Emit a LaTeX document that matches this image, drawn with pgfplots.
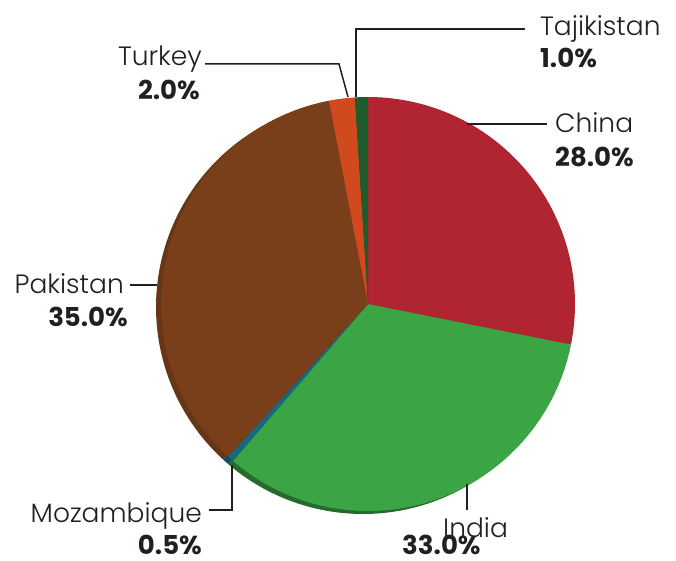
\documentclass[border=0pt]{standalone}
\usepackage{pgfplots}
\pgfplotsset{compat=1.18}
\usepackage{pgfplotstable}
\usepackage{fontspec}
\setmainfont{Poppins}[UprightFont=* Light, BoldFont=* Bold]
\definecolor{cChina}{HTML}{B12432}
\definecolor{cIndia}{HTML}{3BA445}
\definecolor{cMoz}{HTML}{17687E}
\definecolor{cPak}{HTML}{783F1A}
\definecolor{cTur}{HTML}{D14A1E}
\definecolor{cTaj}{HTML}{1E5C2E}
\definecolor{txt}{HTML}{231F20}
% shares (percent) in drawing order, clockwise from 12 o'clock
\def\pChina{28.0}
\def\pIndia{33.0}
\def\pMoz{0.5}
\def\pPak{35.0}
\def\pTur{2.0}
\def\pTaj{1.0}
\pgfmathsetmacro\total{\pChina+\pIndia+\pMoz+\pPak+\pTur+\pTaj}
% #1 cumulative start, #2 share, #3 colour, #4 centre x, #5 centre y
\newcommand\pieslice[5]{%
  \pgfmathsetmacro\sa{90-#1/\total*360}%
  \pgfmathsetmacro\ea{90-(#1+#2)/\total*360}%
  \addplot[fill=#3, draw=none, domain=\sa:\ea, samples=80, variable=\t]
    ({#4+207*cos(\t)},{#5+207*sin(\t)}) -- (axis cs:#4,#5) -- cycle;
}
\begin{document}
\begin{tikzpicture}
\begin{axis}[
  width=676pt, height=560pt, scale only axis,
  xmin=0, xmax=676, ymin=0, ymax=560,
  hide axis, clip=false,
]
% shadow rim
\pieslice{0}{\pChina}{cChina!75!black}{363}{253}
\pieslice{28.0}{\pIndia}{cIndia!65!black}{363}{253}
\pieslice{61.0}{\pMoz}{cMoz!75!black}{363}{253}
\pieslice{61.5}{\pPak}{cPak!85!black}{363}{253}
\pieslice{96.5}{\pTur}{cTur!75!black}{363}{253}
\pieslice{98.5}{\pTaj}{cTaj!75!black}{363}{253}
% top pie
\pieslice{0}{\pChina}{cChina}{368}{256}
\pieslice{28.0}{\pIndia}{cIndia}{368}{256}
\pieslice{61.0}{\pMoz}{cMoz}{368}{256}
\pieslice{61.5}{\pPak}{cPak}{368}{256}
\pieslice{96.5}{\pTur}{cTur}{368}{256}
\pieslice{98.5}{\pTaj}{cTaj}{368}{256}
% leader lines
\draw[txt, line width=1.5pt] (axis cs:356,463) -- (axis cs:356,531) -- (axis cs:525,531);
\draw[txt, line width=1.5pt] (axis cs:467,436) -- (axis cs:547,436);
\draw[txt, line width=1.5pt] (axis cs:205,496) -- (axis cs:339,496) -- (axis cs:348,463);
\draw[txt, line width=1.5pt] (axis cs:130,275) -- (axis cs:157,275);
\draw[txt, line width=1.5pt] (axis cs:209,50) -- (axis cs:232,50) -- (axis cs:232,95);
\draw[txt, line width=1.5pt] (axis cs:467,76) -- (axis cs:467,50);
% labels
\begin{scope}[every node/.style={font=\fontsize{26.5}{30}\selectfont, text=txt, inner sep=0pt}]
\node[anchor=base west] at (axis cs:540,524) {Tajikistan};
\node[anchor=base west, font=\fontsize{26}{30}\selectfont\bfseries] at (axis cs:540,492) {1.0\%};
\node[anchor=base west] at (axis cs:555,427) {China};
\node[anchor=base west, font=\fontsize{26}{30}\selectfont\bfseries] at (axis cs:555,393) {28.0\%};
\node[anchor=base east] at (axis cs:202,494) {Turkey};
\node[anchor=base east, font=\fontsize{26}{30}\selectfont\bfseries] at (axis cs:200,460) {2.0\%};
\node[anchor=base east] at (axis cs:124,267) {Pakistan};
\node[anchor=base east, font=\fontsize{26}{30}\selectfont\bfseries] at (axis cs:128,234) {35.0\%};
\node[anchor=base east] at (axis cs:202,38) {Mozambique};
\node[anchor=base east, font=\fontsize{26}{30}\selectfont\bfseries] at (axis cs:202,6) {0.5\%};
\node[anchor=base west] at (axis cs:443,23) {India};
\node[anchor=base west, font=\fontsize{26}{30}\selectfont\bfseries] at (axis cs:402,6) {33.0\%};
\end{scope}
\end{axis}
\pgfresetboundingbox
\path (current axis.south west) rectangle (current axis.north east);
\end{tikzpicture}
\end{document}
